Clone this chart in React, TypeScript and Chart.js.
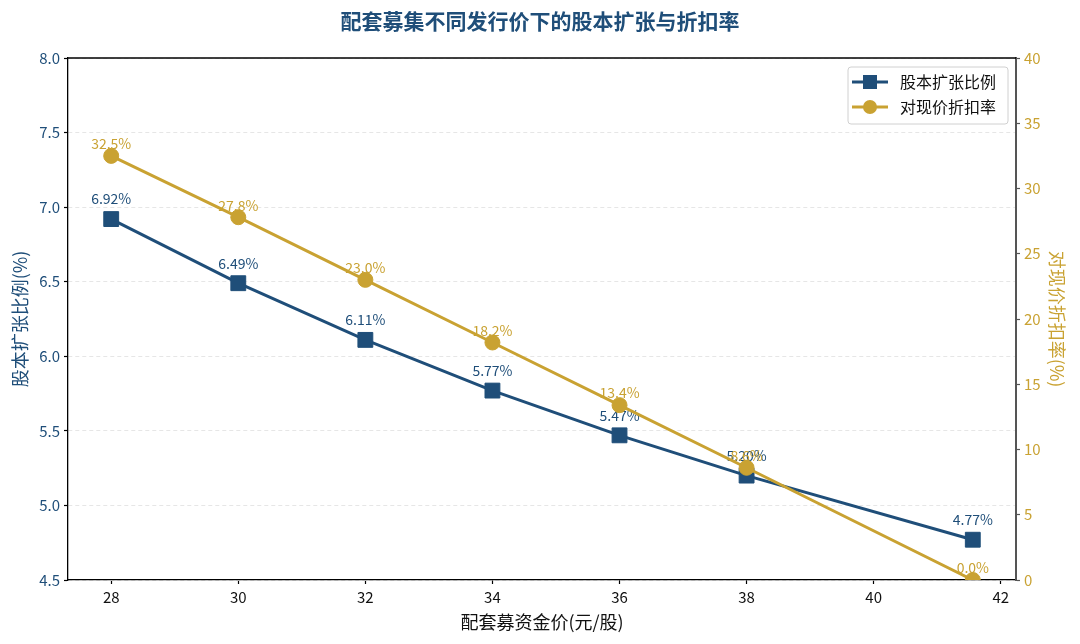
import { useEffect, useRef } from 'react';
import { Chart, registerables } from 'chart.js';

Chart.register(...registerables);

// 数据
const issuePrices = [28, 30, 32, 34, 36, 38, 41.56];
const expansionRatio = [6.92, 6.49, 6.11, 5.77, 5.47, 5.2, 4.77];
const discountRate = [32.5, 27.8, 23.0, 18.2, 13.4, 8.6, 0.0];
const xTicks = [28, 30, 32, 34, 36, 38, 40, 42];

const titleText = '配套募集不同发行价下的股本扩张与折扣率';
const seriesNames = ['股本扩张比例', '对现价折扣率'];

const BLUE = '#1f4e79';
const GOLD = '#c9a232';
const FONT = '"Noto Sans CJK SC", "Noto Sans", sans-serif';

const decorPlugin = {
    id: 'decor',
    beforeDatasetsDraw(chart: any) {
        const ctx = chart.ctx;
        ctx.save();
        ctx.font = `14px ${FONT}`;
        ctx.textAlign = 'center';
        ctx.textBaseline = 'middle';
        // 数据标签
        const blueMeta = chart.getDatasetMeta(0);
        blueMeta.data.forEach((pt: any, i: number) => {
            ctx.fillStyle = BLUE;
            ctx.fillText(expansionRatio[i].toFixed(2) + '%', pt.x, pt.y - 20);
        });
        const goldMeta = chart.getDatasetMeta(1);
        goldMeta.data.forEach((pt: any, i: number) => {
            ctx.fillStyle = GOLD;
            ctx.fillText(discountRate[i].toFixed(1) + '%', pt.x, pt.y - 12);
        });
        ctx.restore();
    },
    afterDraw(chart: any) {
        const ctx = chart.ctx;
        const area = chart.chartArea;
        ctx.save();
        // 上边框
        ctx.strokeStyle = '#000';
        ctx.lineWidth = 1.3;
        ctx.beginPath();
        ctx.moveTo(area.left, area.top);
        ctx.lineTo(area.right, area.top);
        ctx.stroke();

        // 标题
        ctx.fillStyle = BLUE;
        ctx.font = `bold 21px ${FONT}`;
        ctx.textAlign = 'center';
        ctx.textBaseline = 'middle';
        ctx.fillText(titleText, chart.width / 2, 21);

        // 图例
        const bw = 160, bh = 57;
        const bx = area.right - 8 - bw;
        const by = area.top + 9;
        ctx.fillStyle = 'rgba(255,255,255,0.9)';
        ctx.strokeStyle = '#d0d0d0';
        ctx.lineWidth = 1;
        ctx.beginPath();
        ctx.roundRect(bx, by, bw, bh, 3);
        ctx.fill();
        ctx.stroke();

        const rows = [
            { color: BLUE, y: by + 15, shape: 'rect' },
            { color: GOLD, y: by + 40, shape: 'circle' },
        ];
        rows.forEach((r, i) => {
            ctx.strokeStyle = r.color;
            ctx.fillStyle = r.color;
            ctx.lineWidth = 3;
            ctx.beginPath();
            ctx.moveTo(bx + 4, r.y);
            ctx.lineTo(bx + 40, r.y);
            ctx.stroke();
            if (r.shape === 'rect') {
                ctx.fillRect(bx + 22 - 7, r.y - 7, 14, 14);
            } else {
                ctx.beginPath();
                ctx.arc(bx + 22, r.y, 7, 0, Math.PI * 2);
                ctx.fill();
            }
            ctx.fillStyle = '#111';
            ctx.font = `16px ${FONT}`;
            ctx.textAlign = 'left';
            ctx.textBaseline = 'middle';
            ctx.fillText(seriesNames[i], bx + 52, r.y);
        });
        ctx.restore();
    },
};

export default function App() {
    const canvasRef = useRef<HTMLCanvasElement>(null);

    useEffect(() => {
        document.body.style.margin = '0';
        if (!canvasRef.current) return;

        const chart = new Chart(canvasRef.current as any, {
            type: 'line',
            data: {
                datasets: [
                    {
                        label: seriesNames[0],
                        data: issuePrices.map((x, i) => ({ x, y: expansionRatio[i] })),
                        yAxisID: 'y',
                        borderColor: BLUE,
                        backgroundColor: BLUE,
                        borderWidth: 3,
                        pointStyle: 'rect',
                        pointRadius: 10.5,
                        pointBorderWidth: 1,
                        pointBorderColor: BLUE,
                        pointBackgroundColor: BLUE,
                        tension: 0,
                        order: 2,
                    },
                    {
                        label: seriesNames[1],
                        data: issuePrices.map((x, i) => ({ x, y: discountRate[i] })),
                        yAxisID: 'y1',
                        borderColor: GOLD,
                        backgroundColor: GOLD,
                        borderWidth: 3,
                        pointStyle: 'circle',
                        pointRadius: 7.5,
                        pointBorderWidth: 1,
                        pointBorderColor: GOLD,
                        pointBackgroundColor: GOLD,
                        tension: 0,
                        order: 1,
                    },
                ],
            },
            options: {
                responsive: false,
                animation: false,
                layout: { padding: { top: 58, left: 0, right: 0, bottom: 0 } },
                plugins: {
                    legend: { display: false },
                    title: { display: false },
                    tooltip: { enabled: false },
                },
                scales: {
                    x: {
                        type: 'linear',
                        min: 27.32,
                        max: 42.24,
                        afterFit: (s: any) => { s.height = 64; },
                        afterBuildTicks: (s: any) => { s.ticks = xTicks.map(v => ({ value: v })); },
                        ticks: { color: '#111', font: { size: 15, family: FONT }, padding: 4 },
                        grid: { drawOnChartArea: false, drawTicks: true, tickLength: 4, tickColor: '#000', tickWidth: 1.2 },
                        border: { color: '#000', width: 1.3 },
                        title: {
                            display: true,
                            text: '配套募资金价(元/股)',
                            color: '#111',
                            font: { size: 18, family: FONT },
                            padding: { top: 4, bottom: 11 },
                        },
                    },
                    y: {
                        type: 'linear',
                        position: 'left',
                        min: 4.5,
                        max: 8.0,
                        afterFit: (s: any) => { s.width = 68; },
                        ticks: {
                            stepSize: 0.5,
                            color: BLUE,
                            font: { size: 15, family: FONT },
                            padding: 4,
                            callback: (v: any) => Number(v).toFixed(1),
                        },
                        grid: {
                            color: '#e6e6e6',
                            lineWidth: 1,
                            tickLength: 4,
                            tickColor: '#000',
                            tickWidth: 1.2,
                            tickBorderDash: [],
                        },
                        border: { color: '#000', width: 1.3, dash: [4, 3] },
                        title: {
                            display: true,
                            text: '股本扩张比例(%)',
                            color: BLUE,
                            font: { size: 18, family: FONT },
                            padding: { top: 9, bottom: 4 },
                        },
                    },
                    y1: {
                        type: 'linear',
                        position: 'right',
                        min: 0,
                        max: 40,
                        afterFit: (s: any) => { s.width = 64; },
                        ticks: { stepSize: 5, color: GOLD, font: { size: 15, family: FONT }, padding: 4 },
                        grid: { drawOnChartArea: false, tickLength: 4, tickColor: '#555', tickWidth: 1.2 },
                        border: { color: '#555', width: 2 },
                        title: {
                            display: true,
                            text: '对现价折扣率(%)',
                            color: GOLD,
                            font: { size: 18, family: FONT },
                            padding: { top: 12, bottom: 4 },
                        },
                    },
                },
            },
            plugins: [decorPlugin],
        } as any);

        return () => {
            chart.destroy();
        };
    }, []);

    return (
        <div style={{ width: 1080, height: 644, background: '#fff' }}>
            <canvas ref={canvasRef} width={1080} height={644}></canvas>
        </div>
    );
}
